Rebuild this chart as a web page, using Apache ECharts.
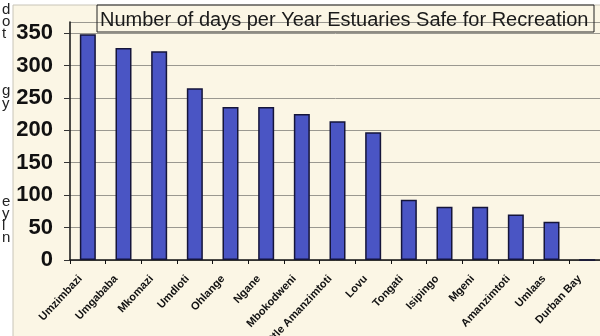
<!DOCTYPE html>
<html><head><meta charset="utf-8">
<script src="https://cdn.jsdelivr.net/npm/echarts@6/dist/echarts.min.js"></script>
<style>html,body{margin:0;padding:0;background:#ffffff;}#c{width:600px;height:336px;}</style>
</head><body><div id="c"></div>
<script>
const categories = ["Umzimbazi","Umgababa","Mkomazi","Umdloti","Ohlange","Ngane","Mbokodweni","Little Amanzimtoti","Lovu","Tongati","Isipingo","Mgeni","Amanzimtoti","Umlaas","Durban Bay"];
const daysSafe = [348, 327, 322, 265, 236, 236, 225, 214, 197, 93, 82, 82, 70, 59, 0];
const titleText = "Number of days per Year Estuaries Safe for Recreation";
const marginLetters = [["d",10],["o",22],["t",34],["g",91],["y",104],["e",202],["y",214],["l",226],["n",238]];

const chart = echarts.init(document.getElementById('c'), null, {renderer:'canvas'});
const graphics = [
  {type:'rect', z:-10, silent:true, shape:{x:13,y:5,width:600,height:340}, style:{fill:'#fbf6e5', stroke:'#c8c4b8', lineWidth:1}},
  {type:'rect', z:5, shape:{x:97,y:5,width:497,height:27}, style:{fill:'rgba(0,0,0,0)', stroke:'#222', lineWidth:1}},
  {type:'text', z:6, left:100, top:10, style:{text:titleText, font:'20px Arial, "Liberation Sans", sans-serif', fill:'#1a1a1a'}}
];
marginLetters.forEach(([ch,y]) => graphics.push({type:'text', left:2, top:y-8, style:{text:ch, font:'15px Arial, "Liberation Sans", sans-serif', fill:'#222'}}));

chart.setOption({
  animation:false,
  backgroundColor:'#ffffff',
  graphic: graphics,
  grid:{left:70, top:22, width:535, height:238, containLabel:false, outerBoundsMode:'none'},
  xAxis:{
    type:'category', data:categories,
    axisLine:{lineStyle:{color:'#111', width:1.5}},
    axisTick:{show:true, length:4, lineStyle:{color:'#111'}},
    axisLabel:{interval:0, rotate:47, margin:9, padding:[0,11,0,0], fontSize:11, fontWeight:'bold', fontFamily:'Arial, "Liberation Sans", sans-serif', color:'#111'}
  },
  yAxis:{
    type:'value', min:0, max:367, interval:50,
    axisLine:{show:true, lineStyle:{color:'#111', width:1.5}},
    axisTick:{show:true, length:6, lineStyle:{color:'#333'}},
    splitLine:{lineStyle:{color:'#9a9890', width:1}},
    axisLabel:{showMaxLabel:false, margin:17, fontSize:22, fontWeight:'bold', fontFamily:'Arial, "Liberation Sans", sans-serif', color:'#111',
      formatter: v => (v % 50 === 0 ? String(v) : '')}
  },
  series:[{
    type:'bar', data:daysSafe, barWidth:16,
    itemStyle:{color:'#4a55c4', borderColor:'#15153a', borderWidth:1.5}
  }]
});
</script></body></html>
